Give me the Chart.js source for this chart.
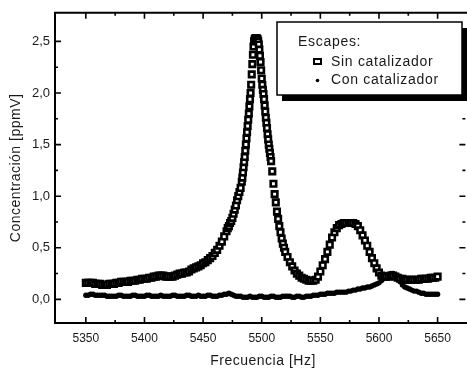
<!DOCTYPE html>
<html>
<head>
<meta charset="utf-8">
<script src="https://cdn.jsdelivr.net/npm/chart.js@4.4.1/dist/chart.umd.min.js"></script>
<style>
  html, body { margin: 0; padding: 0; background: #fff; overflow: hidden; }
</style>
</head>
<body>
<canvas id="chart" width="472" height="375"></canvas>
<script>
// Ejes
const xTicks = [5350, 5400, 5450, 5500, 5550, 5600, 5650];
const xMinor = [5375, 5425, 5475, 5525, 5575, 5625];
const yTicks = [0, 0.5, 1, 1.5, 2, 2.5];
const yMinor = [0.25, 0.75, 1.25, 1.75, 2.25];

// Sin catalizador (cuadrados)
const sinFreq = [
  5350, 5352, 5354, 5356, 5358, 5360, 5362, 5364, 5366, 5368,
  5370, 5372, 5374, 5376, 5378, 5380, 5382, 5384, 5386, 5388,
  5390, 5392, 5394, 5396, 5398, 5400, 5402, 5404, 5406, 5408,
  5410, 5412, 5414, 5416, 5418, 5420, 5422, 5424, 5426, 5428,
  5430, 5432, 5434, 5436, 5438, 5440, 5442, 5444, 5446, 5448,
  5450, 5452, 5454, 5456, 5458, 5460, 5462, 5464, 5466, 5468,
  5470, 5471, 5472, 5473, 5474, 5475, 5476, 5477, 5478, 5479,
  5480, 5481, 5482, 5483, 5483.5, 5484, 5484.5, 5485, 5485.5, 5486,
  5486.5, 5487, 5487.5, 5488, 5488.5, 5489, 5489.5, 5490, 5490.5, 5491,
  5491.5, 5492, 5492.5, 5493, 5493.5, 5494, 5494.5, 5495, 5495.5, 5496,
  5496.5, 5497, 5497.5, 5498, 5498.5, 5499, 5499.5, 5500, 5500.5, 5501,
  5501.5, 5502, 5502.5, 5503, 5503.5, 5504, 5504.5, 5505, 5505.5, 5506,
  5506.5, 5507, 5507.5, 5508, 5509, 5510, 5511, 5512, 5513, 5514,
  5515, 5516, 5517, 5518, 5519, 5520, 5522, 5524, 5526, 5528,
  5530, 5532, 5534, 5536, 5538, 5540, 5542, 5544, 5546, 5548,
  5550, 5552, 5554, 5556, 5558, 5560, 5562, 5564, 5566, 5568,
  5570, 5572, 5574, 5576, 5578, 5580, 5582, 5584, 5586, 5588,
  5590, 5592, 5594, 5596, 5598, 5600, 5602, 5604, 5606, 5608,
  5610, 5612, 5614, 5616, 5618, 5620, 5622, 5624, 5626, 5628,
  5630, 5632, 5634, 5636, 5638, 5640, 5642, 5644, 5646, 5648,
  5650
];
const sinConc = [
  0.16, 0.16, 0.16, 0.16, 0.15, 0.15, 0.15, 0.14, 0.14, 0.14,
  0.15, 0.15, 0.15, 0.16, 0.16, 0.17, 0.17, 0.17, 0.17, 0.18,
  0.18, 0.18, 0.19, 0.19, 0.20, 0.20, 0.20, 0.21, 0.21, 0.22,
  0.22, 0.23, 0.23, 0.23, 0.22, 0.22, 0.22, 0.22, 0.23, 0.24,
  0.25, 0.25, 0.26, 0.26, 0.27, 0.29, 0.30, 0.31, 0.32, 0.33,
  0.35, 0.36, 0.38, 0.40, 0.42, 0.45, 0.48, 0.52, 0.56, 0.61,
  0.66, 0.69, 0.71, 0.74, 0.76, 0.79, 0.83, 0.87, 0.91, 0.96,
  1.00, 1.04, 1.08, 1.14, 1.18, 1.23, 1.28, 1.33, 1.38, 1.44,
  1.50, 1.56, 1.62, 1.68, 1.74, 1.80, 1.87, 1.94, 2.00, 2.08,
  2.18, 2.28, 2.37, 2.45, 2.50, 2.52, 2.53, 2.53, 2.52, 2.53,
  2.52, 2.50, 2.47, 2.42, 2.36, 2.30, 2.22, 2.14, 2.08, 2.03,
  1.99, 1.94, 1.88, 1.82, 1.76, 1.71, 1.66, 1.60, 1.55, 1.50,
  1.46, 1.42, 1.38, 1.34, 1.24, 1.12, 1.02, 0.94, 0.85, 0.78,
  0.71, 0.65, 0.59, 0.54, 0.50, 0.46, 0.41, 0.36, 0.32, 0.28,
  0.25, 0.23, 0.21, 0.20, 0.19, 0.18, 0.18, 0.18, 0.19, 0.22,
  0.27, 0.33, 0.39, 0.46, 0.53, 0.60, 0.65, 0.69, 0.72, 0.73,
  0.74, 0.74, 0.74, 0.74, 0.74, 0.73, 0.71, 0.67, 0.62, 0.57,
  0.52, 0.46, 0.40, 0.35, 0.30, 0.26, 0.23, 0.22, 0.22, 0.22,
  0.23, 0.23, 0.22, 0.21, 0.20, 0.20, 0.19, 0.19, 0.19, 0.19,
  0.19, 0.19, 0.19, 0.20, 0.20, 0.20, 0.20, 0.21, 0.21, 0.21,
  0.22
];

// Con catalizador (puntos)
const conFreq = [
  5350, 5352, 5354, 5356, 5358, 5360, 5362, 5364, 5366, 5368,
  5370, 5372, 5374, 5376, 5378, 5380, 5382, 5384, 5386, 5388,
  5390, 5392, 5394, 5396, 5398, 5400, 5402, 5404, 5406, 5408,
  5410, 5412, 5414, 5416, 5418, 5420, 5422, 5424, 5426, 5428,
  5430, 5432, 5434, 5436, 5438, 5440, 5442, 5444, 5446, 5448,
  5450, 5452, 5454, 5456, 5458, 5460, 5462, 5464, 5466, 5468,
  5470, 5472, 5474, 5476, 5478, 5480, 5482, 5484, 5486, 5488,
  5490, 5492, 5494, 5496, 5498, 5500, 5502, 5504, 5506, 5508,
  5510, 5512, 5514, 5516, 5518, 5520, 5522, 5524, 5526, 5528,
  5530, 5532, 5534, 5536, 5538, 5540, 5542, 5544, 5546, 5548,
  5550, 5552, 5554, 5556, 5558, 5560, 5562, 5564, 5566, 5568,
  5570, 5572, 5574, 5576, 5578, 5580, 5582, 5584, 5586, 5588,
  5590, 5592, 5594, 5596, 5598, 5600, 5602, 5604, 5606, 5608,
  5610, 5612, 5614, 5616, 5618, 5620, 5622, 5624, 5626, 5628,
  5630, 5632, 5634, 5636, 5638, 5640, 5642, 5644, 5646, 5648,
  5650
];
const conConc = [
  0.04, 0.04, 0.05, 0.05, 0.04, 0.04, 0.04, 0.04, 0.04, 0.03,
  0.03, 0.03, 0.03, 0.03, 0.04, 0.04, 0.03, 0.03, 0.03, 0.03,
  0.04, 0.04, 0.03, 0.03, 0.03, 0.03, 0.04, 0.04, 0.03, 0.03,
  0.03, 0.03, 0.04, 0.03, 0.03, 0.03, 0.03, 0.04, 0.04, 0.03,
  0.03, 0.03, 0.03, 0.04, 0.04, 0.03, 0.03, 0.03, 0.04, 0.03,
  0.03, 0.03, 0.04, 0.04, 0.03, 0.03, 0.03, 0.04, 0.04, 0.05,
  0.05, 0.06, 0.05, 0.04, 0.03, 0.03, 0.03, 0.02, 0.02, 0.02,
  0.03, 0.02, 0.02, 0.02, 0.03, 0.03, 0.02, 0.02, 0.02, 0.03,
  0.03, 0.02, 0.02, 0.02, 0.03, 0.03, 0.03, 0.03, 0.02, 0.02,
  0.03, 0.03, 0.02, 0.02, 0.03, 0.03, 0.03, 0.04, 0.04, 0.04,
  0.05, 0.05, 0.05, 0.06, 0.06, 0.06, 0.06, 0.07, 0.07, 0.07,
  0.07, 0.07, 0.08, 0.08, 0.09, 0.09, 0.10, 0.10, 0.11, 0.11,
  0.12, 0.12, 0.13, 0.14, 0.15, 0.16, 0.18, 0.20, 0.22, 0.24,
  0.25, 0.25, 0.24, 0.21, 0.17, 0.14, 0.12, 0.11, 0.10, 0.09,
  0.08, 0.08, 0.07, 0.06, 0.06, 0.05, 0.05, 0.05, 0.05, 0.05,
  0.05
];

const FONT = "Arial, 'Liberation Sans', Helvetica, sans-serif";
const TEXT = '#1a1a1a';

const toPoints = (xs, ys) => xs.map((f, i) => ({ x: f, y: ys[i] }));

// marco con marcas hacia adentro (el borde derecho queda fuera de la imagen)
const framePlugin = {
  id: 'frame',
  afterDatasetsDraw(chart) {
    const { ctx, chartArea: a, scales: { x, y } } = chart;
    ctx.save();
    ctx.strokeStyle = '#000';
    ctx.lineWidth = 2;
    ctx.beginPath();
    ctx.moveTo(a.right + 2, a.top);
    ctx.lineTo(a.left, a.top);
    ctx.lineTo(a.left, a.bottom);
    ctx.lineTo(a.right + 2, a.bottom);
    ctx.stroke();
    ctx.lineWidth = 1.6;
    ctx.beginPath();
    const xMarks = (vals, len) => vals.forEach(v => {
      const px = x.getPixelForValue(v);
      ctx.moveTo(px, a.bottom); ctx.lineTo(px, a.bottom - len);
      ctx.moveTo(px, a.top); ctx.lineTo(px, a.top + len);
    });
    const yMarks = (vals, len) => vals.forEach(v => {
      const py = y.getPixelForValue(v);
      ctx.moveTo(a.left, py); ctx.lineTo(a.left + len, py);
      ctx.moveTo(a.right, py); ctx.lineTo(a.right - len, py);
    });
    xMarks(xTicks, 6); xMarks(xMinor, 3);
    yMarks(yTicks, 6); yMarks(yMinor, 3);
    ctx.stroke();
    ctx.restore();
  },
  afterDraw(chart) {
    const { ctx, chartArea: a } = chart;
    ctx.save();
    ctx.fillStyle = TEXT;
    ctx.font = '14px ' + FONT;
    ctx.letterSpacing = '0.5px';
    ctx.textAlign = 'center';
    ctx.textBaseline = 'middle';
    ctx.fillText('Frecuencia [Hz]', 263, 361);
    ctx.translate(16, (a.top + a.bottom) / 2);
    ctx.rotate(-Math.PI / 2);
    ctx.fillText('Concentración [ppmV]', 0, 0);
    ctx.restore();

    // leyenda con sombra
    ctx.save();
    const bx = 277, by = 22, bw = 185, bh = 73;
    ctx.fillStyle = '#000';
    ctx.fillRect(bx + 5, by + 6, bw, bh);
    ctx.fillStyle = '#fff';
    ctx.fillRect(bx, by, bw, bh);
    ctx.strokeStyle = '#000';
    ctx.lineWidth = 1.5;
    ctx.strokeRect(bx, by, bw, bh);
    ctx.fillStyle = TEXT;
    ctx.font = '14px ' + FONT;
    ctx.letterSpacing = '0.7px';
    ctx.textAlign = 'left';
    ctx.textBaseline = 'middle';
    ctx.fillText('Escapes:', 298, 42);
    ctx.fillText('Sin catalizador', 331, 62);
    ctx.fillText('Con catalizador', 331, 80);
    ctx.fillStyle = '#fff';
    ctx.lineWidth = 2;
    ctx.fillRect(314, 59, 7, 5);
    ctx.strokeRect(314, 59, 7, 5);
    ctx.fillStyle = '#000';
    ctx.beginPath();
    ctx.arc(317.5, 80.5, 1.8, 0, Math.PI * 2);
    ctx.fill();
    ctx.restore();
  }
};

new Chart(document.getElementById('chart'), {
  type: 'scatter',
  data: {
    datasets: [
      {
        label: 'Sin catalizador',
        data: toPoints(sinFreq, sinConc),
        pointStyle: 'rect',
        pointRadius: 3.9,
        borderWidth: 2.6,
        borderColor: '#000',
        backgroundColor: '#fff'
      },
      {
        label: 'Con catalizador',
        data: toPoints(conFreq, conConc),
        pointStyle: 'circle',
        pointRadius: 2.7,
        borderWidth: 0,
        backgroundColor: '#000'
      }
    ]
  },
  options: {
    responsive: false,
    animation: false,
    events: [],
    layout: { padding: { left: 0, top: 8, right: 4, bottom: 0 } },
    plugins: {
      legend: { display: false },
      tooltip: { enabled: false }
    },
    scales: {
      x: {
        type: 'linear',
        min: 5323.7,
        max: 5673.7,
        afterBuildTicks: s => { s.ticks = xTicks.map(v => ({ value: v })); },
        afterFit: s => { s.height = 52; },
        grid: { display: false, drawTicks: false },
        border: { display: false },
        ticks: {
          padding: 8,
          color: TEXT,
          font: { family: FONT, size: 12 },
          maxRotation: 0,
          autoSkip: false,
          callback: v => String(v)
        }
      },
      y: {
        min: -0.229,
        max: 2.777,
        afterBuildTicks: s => { s.ticks = yTicks.map(v => ({ value: v })); },
        afterFit: s => { s.width = 55; },
        grid: { display: false, drawTicks: false },
        border: { display: false },
        ticks: {
          padding: 5,
          color: TEXT,
          font: { family: FONT, size: 13 },
          callback: v => v.toFixed(1).replace('.', ',')
        }
      }
    }
  },
  plugins: [framePlugin]
});
</script>
</body>
</html>
